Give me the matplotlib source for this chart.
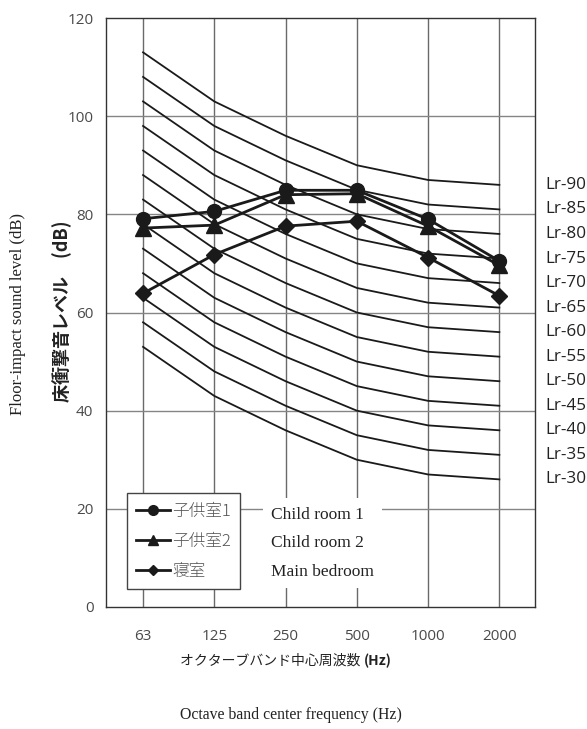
import matplotlib
matplotlib.use("Agg")
import matplotlib.pyplot as plt
import numpy as np

# octave bands and measured levels
bands = ["63", "125", "250", "500", "1000", "2000"]
child1 = [79.1, 80.6, 84.9, 84.9, 79.0, 70.5]
child2 = [77.2, 77.8, 84.0, 84.2, 77.6, 69.6]
bedroom = [63.9, 71.8, 77.6, 78.6, 71.2, 63.4]

# Lr reference curves: value at 500 Hz and offsets per band
lr_ratings = [90, 85, 80, 75, 70, 65, 60, 55, 50, 45, 40, 35, 30]
lr_offsets = [23, 13, 6, 0, -3, -4]

jp = ["Noto Sans CJK JP", "DejaVu Sans"]
serif = ["Liberation Serif", "DejaVu Serif"]

fig = plt.figure(figsize=(5.87, 7.29), dpi=100)
ax = fig.add_axes([106 / 587, 122 / 729, 429 / 587, 589 / 729])

x = np.arange(len(bands))

# grid
for xi in x:
    ax.axvline(xi, color="#6a6a6a", lw=1.0, zorder=1)
for yv in range(20, 120, 20):
    ax.axhline(yv, color="#858585", lw=1.0, zorder=1)

# Lr curves
for r in lr_ratings:
    vals = [r + o for o in lr_offsets]
    ax.plot(x, vals, color="#1a1a1a", lw=1.3, zorder=2)
    ax.annotate(f"Lr-{r}", xy=(1.024, vals[-1]),
                xycoords=("axes fraction", "data"),
                ha="left", va="center", fontsize=12.3,
                family="Open Sans", color="#222222", annotation_clip=False)

# measured data
l1, = ax.plot(x, child1, color="#1a1a1a", lw=2.0, marker="o", ms=10, zorder=4)
l2, = ax.plot(x, child2, color="#1a1a1a", lw=2.0, marker="^", ms=11, zorder=4)
l3, = ax.plot(x, bedroom, color="#1a1a1a", lw=2.0, marker="D", ms=8, zorder=4)

ax.set_xlim(-0.52, 5.5)
ax.set_ylim(0, 120)
ax.set_yticks(range(0, 121, 20))
ax.set_xticks(x)
ax.set_xticklabels(bands)
ax.tick_params(length=0, labelsize=11, labelcolor="#4a4a4a")
ax.tick_params(axis="x", pad=16)
ax.tick_params(axis="y", pad=9)
for lab in ax.get_xticklabels() + ax.get_yticklabels():
    lab.set_family("Open Sans")
for sp in ax.spines.values():
    sp.set_color("#333333")
    sp.set_linewidth(1.0)

# legend
leg = ax.legend([l1, l2, l3], ["子供室1", "子供室2", "寝室"],
                loc="lower left", bbox_to_anchor=(0.049, 0.03),
                prop={"family": jp, "size": 12, "weight": "light"},
                markerscale=0.7, handlelength=2.0, labelspacing=0.8,
                handletextpad=0.15, borderpad=0.55, fancybox=False,
                framealpha=1, edgecolor="#444444", borderaxespad=0)
leg.get_frame().set_linewidth(1.0)
leg.set_zorder(5)
for t in leg.get_texts():
    t.set_color("#555555")

# english legend labels
ax.text(0.385, 0.108, "Child room 1\nChild room 2\nMain bedroom",
        transform=ax.transAxes, ha="left", va="center", fontsize=12.5,
        family=serif, color="#222222", linespacing=2.05, zorder=5,
        bbox=dict(facecolor="white", edgecolor="none", pad=6))

# axis labels
fig.text(18 / 587, 1 - 314 / 729, "Floor-impact sound level (dB)",
         rotation=90, ha="center", va="center", fontsize=12,
         family=serif, color="#222222")
fig.text(62 / 587, 1 - 311 / 729, "床衝撃音レベル　(dB)",
         rotation=90, ha="center", va="center", fontsize=13,
         family=jp, fontweight="bold", color="#222222")
tj = fig.text(272 / 587, 1 - 661 / 729, "オクターブバンド中心周波数 ",
              ha="center", va="center", fontsize=10, family=jp,
              color="#222222")
ax.annotate("(Hz)", xy=(1, 0.5), xycoords=tj, ha="left", va="center",
            fontsize=10, family=jp, fontweight="bold", color="#222222",
            annotation_clip=False)
fig.text(291 / 587, 1 - 715 / 729, "Octave band center frequency (Hz)",
         ha="center", va="center", fontsize=11.3, family=serif,
         color="#222222")

fig.savefig("out.png", dpi=100)
